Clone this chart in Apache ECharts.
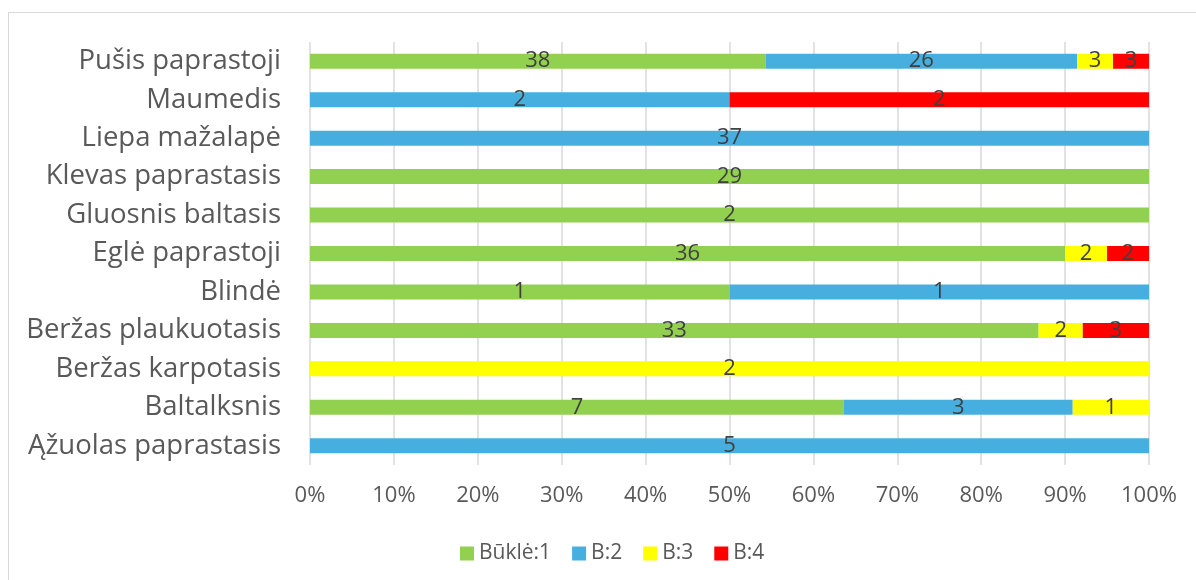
<!DOCTYPE html>
<html>
<head>
<meta charset="utf-8">
<script src="https://cdn.jsdelivr.net/npm/echarts@6/dist/echarts.min.js"></script>
<style>
html,body{margin:0;padding:0;background:#fff;overflow:hidden;}
#frame{position:absolute;left:8px;top:12px;width:1200px;height:600px;border:1.5px solid #d9d9d9;box-sizing:border-box;}
#chart{position:absolute;left:0;top:0;width:1196px;height:580px;}
</style>
</head>
<body>
<div id="frame"></div>
<div id="chart"></div>
<script>
const categories = ['Ąžuolas paprastasis','Baltalksnis','Beržas karpotasis','Beržas plaukuotasis','Blindė','Eglė paprastoji','Gluosnis baltasis','Klevas paprastasis','Liepa mažalapė','Maumedis','Pušis paprastoji'];
const seriesNames = ['Būklė:1','B:2','B:3','B:4'];
const b1 = [0, 7, 0, 33, 1, 36, 2, 29, 0, 0, 38];
const b2 = [5, 3, 0, 0, 1, 0, 0, 0, 37, 2, 26];
const b3 = [0, 1, 2, 2, 0, 2, 0, 0, 0, 0, 3];
const b4 = [0, 0, 0, 3, 0, 2, 0, 0, 0, 2, 3];
const xTicks = ['0%','10%','20%','30%','40%','50%','60%','70%','80%','90%','100%'];
const colors = ['#92D050','#47AFDF','#FFFF00','#FF0000'];

const counts = [b1, b2, b3, b4];
const totals = categories.map((_, i) => counts.reduce((s, a) => s + a[i], 0));
const FONT = 'Open Sans';

const chart = echarts.init(document.getElementById('chart'), null, {renderer:'canvas'});
chart.setOption({
  animation: false,
  textStyle: {fontFamily: FONT},
  grid: {left: 310, right: 47, top: 42, bottom: 115, containLabel: false},
  legend: {
    top: 538, left: 455,
    itemWidth: 14, itemHeight: 14, itemGap: 21,
    icon: 'rect',
    textStyle: {fontSize: 21, color: '#595959', fontFamily: FONT},
    data: seriesNames
  },
  xAxis: {
    type: 'value', min: 0, max: 100, interval: 10,
    axisLine: {show: false}, axisTick: {show: false},
    splitLine: {show: true, lineStyle: {color: '#d9d9d9', width: 1.5}},
    axisLabel: {formatter: v => xTicks[Math.round(v/10)], fontSize: 22, color: '#595959', margin: 20, fontFamily: FONT}
  },
  yAxis: {
    type: 'category', data: categories,
    axisLine: {show: false}, axisTick: {show: false},
    axisLabel: {fontSize: 27.5, color: '#595959', margin: 29, fontFamily: FONT}
  },
  series: counts.map((arr, k) => ({
    name: seriesNames[k], type: 'bar', stack: 'total',
    barWidth: 15,
    itemStyle: {color: colors[k]},
    label: {
      show: true, position: 'inside', fontSize: 22, color: '#404040', fontFamily: FONT,
      formatter: p => arr[p.dataIndex] ? String(arr[p.dataIndex]) : ''
    },
    data: arr.map((v, i) => v / totals[i] * 100)
  }))
});
</script>
</body>
</html>
